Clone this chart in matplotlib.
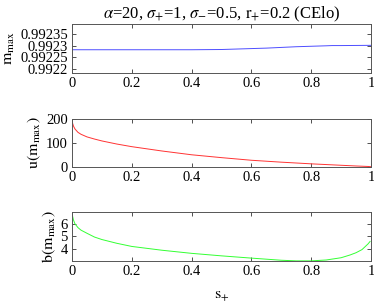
import matplotlib
matplotlib.use("Agg")
import matplotlib.pyplot as plt
import numpy as np

plt.rcParams['font.family'] = ['Liberation Serif', 'DejaVu Serif']
plt.rcParams['mathtext.fontset'] = 'stix'

# data
s_m = [0.0, 0.2, 0.4, 0.5, 0.55, 0.6, 0.65, 0.7, 0.75, 0.8, 0.85, 0.87, 0.9, 1.0]
m_max = [0.992282, 0.992282, 0.992282, 0.992283, 0.992285, 0.992287, 0.992289,
         0.992292, 0.992295, 0.992297, 0.992299, 0.9923, 0.9923, 0.992301]

s_u = [0.0, 0.002, 0.005, 0.01, 0.02, 0.03, 0.05, 0.075, 0.1, 0.15, 0.2, 0.3, 0.4,
       0.5, 0.6, 0.7, 0.8, 0.9, 0.95, 0.99, 1.0]
u_vals = [200, 182, 170, 158, 144, 136, 125, 116, 108, 95, 84, 66, 50,
          38, 27, 19, 12, 6, 3, 1, 0]

s_b = [0.0, 0.002, 0.005, 0.01, 0.02, 0.03, 0.05, 0.075, 0.1, 0.15, 0.2, 0.3, 0.4,
       0.5, 0.6, 0.7, 0.75, 0.8, 0.85, 0.9, 0.93, 0.95, 0.97, 0.99, 0.997]
b_vals = [6.9, 6.6, 6.3, 6.0, 5.7, 5.5, 5.25, 4.95, 4.75, 4.45, 4.2, 3.9, 3.65,
          3.45, 3.27, 3.1, 3.05, 3.05, 3.12, 3.3, 3.52, 3.7, 3.95, 4.4, 4.6]

xticks = [0, 0.2, 0.4, 0.6, 0.8, 1]
xticklabels = ['0', '0.2', '0.4', '0.6', '0.8', '1']
m_ticks = [0.9922, 0.99225, 0.9923, 0.99235]
m_ticklabels = ['0.9922', '0.99225', '0.9923', '0.99235']
u_ticks = [0, 100, 200]
b_ticks = [4, 5, 6]

fig = plt.figure(figsize=(3.74, 3.05), dpi=100)
fs = 10.5
left, width = 72/374, 299/374
ax1 = fig.add_axes([left, 1-72.7/305, width, 48.7/305])
ax2 = fig.add_axes([left, 1-166.7/305, width, 47.7/305])
ax3 = fig.add_axes([left, 1-261/305, width, 48.7/305])

ax1.plot(s_m, m_max, color=(0.3, 0.3, 1.0), lw=0.7)
ax2.plot(s_u, u_vals, color=(1.0, 0.2, 0.2), lw=0.7)
ax3.plot(s_b, b_vals, color=(0.2, 1.0, 0.2), lw=0.7)

ax1.set_ylim(0.992183, 0.992393)
ax1.set_yticks(m_ticks)
ax1.set_yticklabels(m_ticklabels)
ax2.set_ylim(0, 200)
ax2.set_yticks(u_ticks)
ax3.set_ylim(3.04, 6.92)
ax3.set_yticks(b_ticks)

for ax in (ax1, ax2, ax3):
    ax.set_xlim(0, 1)
    ax.set_xticks(xticks)
    ax.set_xticklabels(xticklabels)
    ax.tick_params(direction='in', top=True, right=True, length=3, width=0.6,
                   colors='#333333', labelcolor='black', labelsize=fs, pad=3)
    for sp in ax.spines.values():
        sp.set_color('#555555')
        sp.set_linewidth(0.7)

ax1.set_ylabel(r'$\mathrm{m}_{\mathrm{max}}$', fontsize=fs+1, labelpad=2)
ax2.set_ylabel(r'$\mathrm{u(m}_{\mathrm{max}}\mathrm{)}$', fontsize=fs+1, labelpad=2)
ax3.set_ylabel(r'$\mathrm{b(m}_{\mathrm{max}}\mathrm{)}$', fontsize=fs+1, labelpad=2)
ax3.set_xlabel(r'$\mathrm{s}_{+}$', fontsize=fs+1, labelpad=6)
ax1.set_title(r'$\alpha$=20, $\sigma_{+}$=1, $\sigma_{-}$=0.5, $\mathrm{r}_{+}$=0.2 (CElo)',
              fontsize=12, pad=4)

fig.savefig('out.png', dpi=100)
